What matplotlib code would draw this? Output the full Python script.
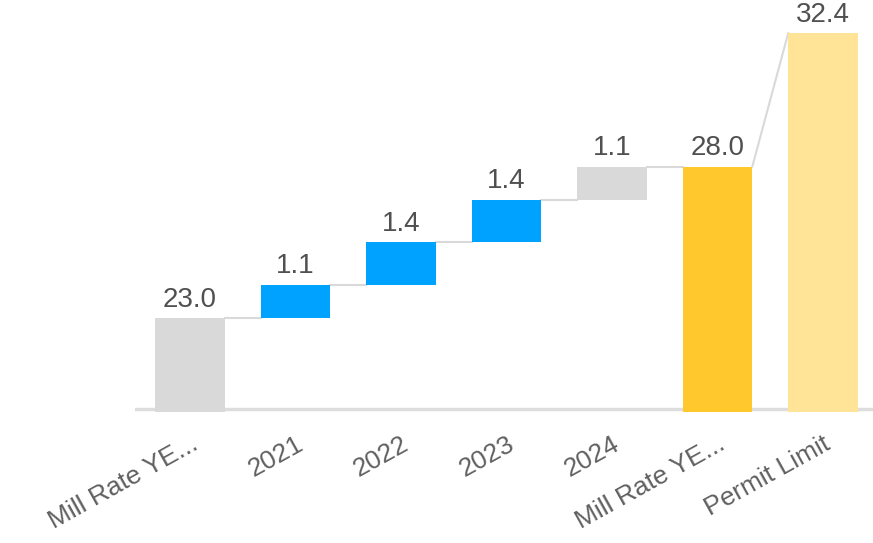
import matplotlib
matplotlib.use("Agg")
import matplotlib.pyplot as plt
import numpy as np

plt.rcParams['font.family'] = ['Liberation Sans', 'DejaVu Sans']

# waterfall data
categories = ['Mill Rate YE...', '2021', '2022', '2023', '2024', 'Mill Rate YE...', 'Permit Limit']
start_value = 23.0
deltas = [1.1, 1.4, 1.4, 1.1]
permit_limit = 32.4
bar_colors = ['#D9D9D9', '#00A2FF', '#00A2FF', '#00A2FF', '#D9D9D9', '#FFC92E', '#FFE396']

y_floor = 20.0

# build bottoms / tops
levels = [start_value]
for d in deltas:
    levels.append(round(levels[-1] + d, 1))
total = levels[-1]

bottoms = [y_floor] + levels[:-1] + [y_floor, y_floor]
tops = levels + [total, permit_limit]
labels = [f'{start_value:.1f}'] + [f'{d:.1f}' for d in deltas] + [f'{total:.1f}', f'{permit_limit:.1f}']

fig = plt.figure(figsize=(8.73, 5.43), dpi=100)
ax = fig.add_axes([135 / 873, 131 / 543, 738 / 873, 412 / 543])

x = np.arange(len(categories))
width = 0.66
bottoms = np.array(bottoms)
heights = np.array(tops) - bottoms
# bars standing on the floor go a touch below the base line
on_floor = bottoms == y_floor
bottoms = np.where(on_floor, bottoms - 0.1, bottoms)
heights = np.where(on_floor, heights + 0.1, heights)
ax.bar(x, heights, bottom=bottoms, width=width, color=bar_colors, zorder=2)

# base line
ax.axhline(y_floor, color='#DDDDDD', lw=2.5, zorder=1)

# connectors
conn_color = '#D9D9D9'
for i in range(len(levels)):
    ax.plot([x[i] + width / 2, x[i + 1] - width / 2], [levels[i], levels[i]],
            color=conn_color, lw=1.5, zorder=1)
ax.plot([x[5] + width / 2, x[6] - width / 2], [total, permit_limit],
        color=conn_color, lw=1.5, zorder=1)

# value labels
for xi, top, lab in zip(x, tops, labels):
    ax.annotate(lab, (xi, top), xytext=(0, 4), textcoords='offset points',
                ha='center', va='bottom', fontsize=20, color='#505050')

ax.set_xlim(-0.521, 6.474)
ax.set_ylim(y_floor - 0.1, 33.5)
ax.set_xticks(x)
ax.set_xticklabels(categories, rotation=29, ha='right', va='top',
                   rotation_mode='anchor', fontsize=19, color='#606060')
ax.tick_params(axis='x', length=0, pad=14)
ax.set_yticks([])
for s in ax.spines.values():
    s.set_visible(False)

fig.savefig('out.png', dpi=100)
